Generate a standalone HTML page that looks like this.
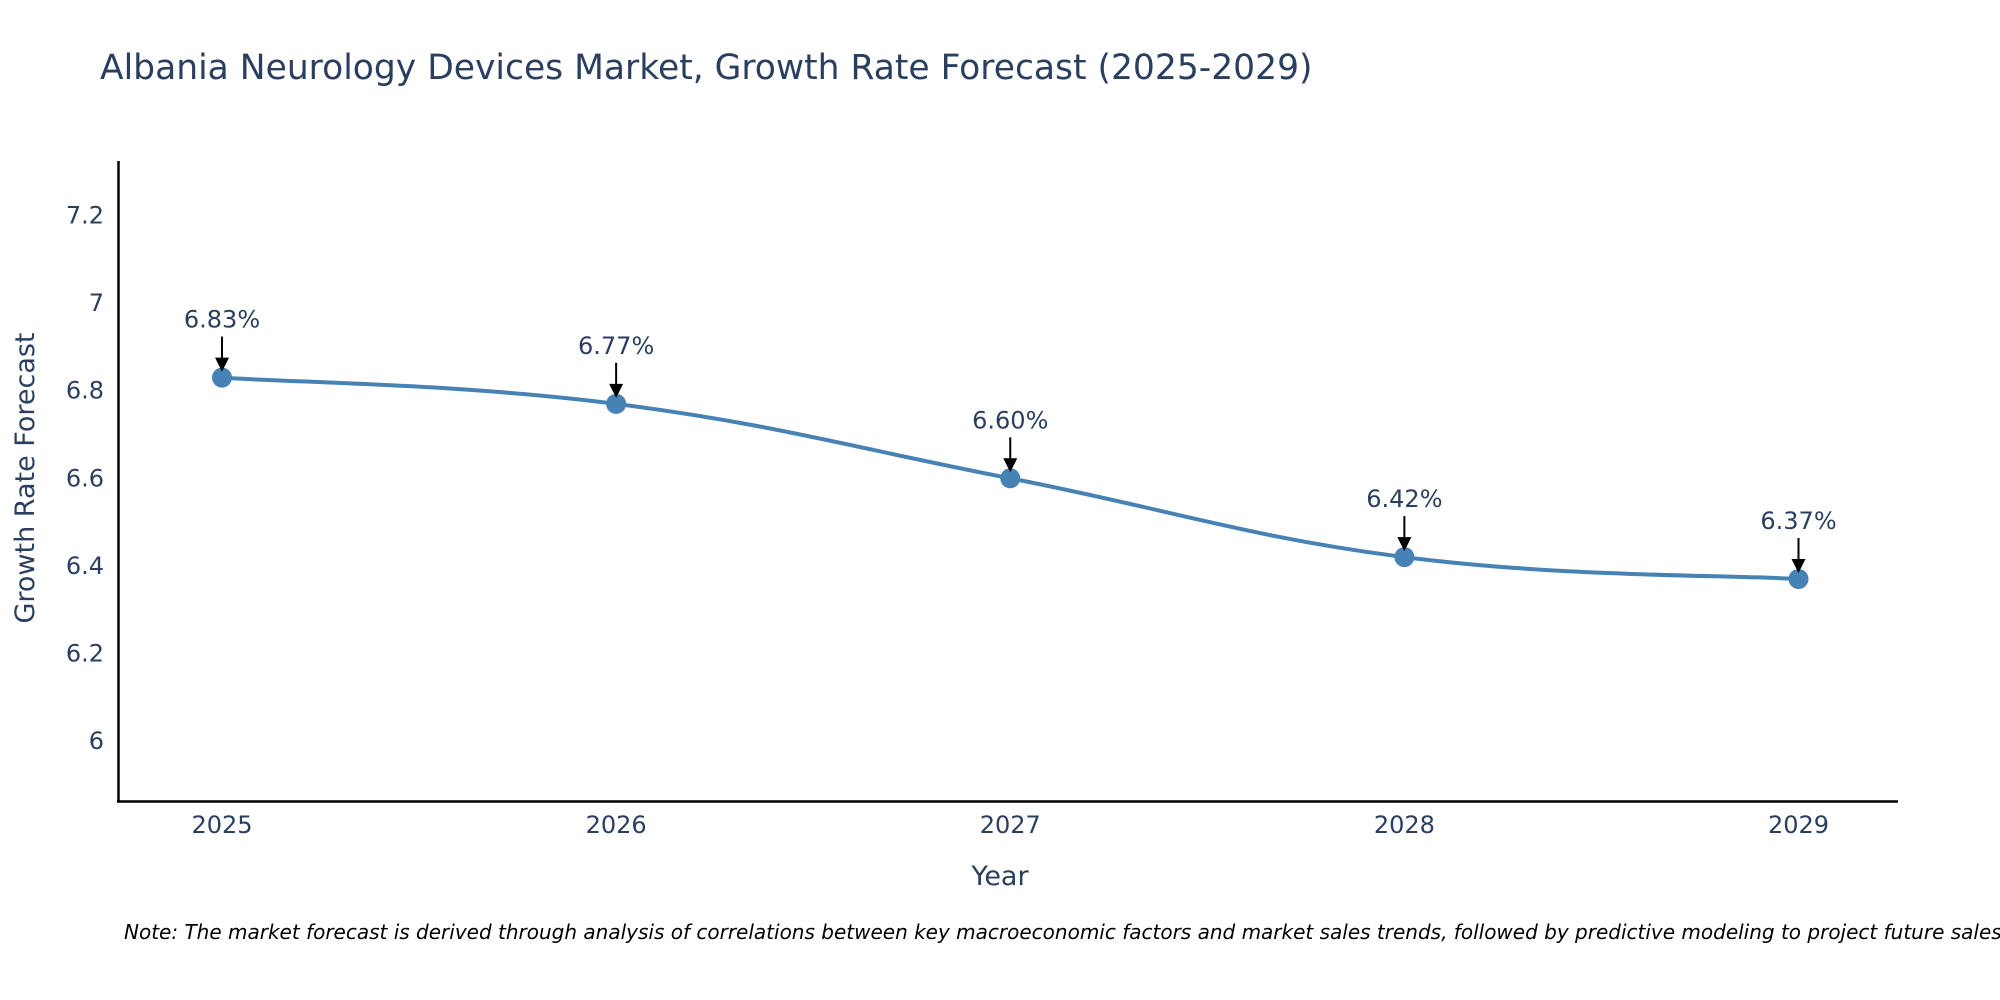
<!DOCTYPE html>
<html><head><meta charset="utf-8"><style>
html,body{margin:0;padding:0;background:#fff;overflow:hidden;}
svg{display:block;font-family:"DejaVu Sans","Liberation Sans",sans-serif;}
</style></head><body>
<svg id="chart" width="2000" height="1000" viewBox="0 0 2000 1000">
<text x="100" y="79" font-size="34.5" fill="#2a3f5f">Albania Neurology Devices Market, Growth Rate Forecast (2025-2029)</text>
<g id="plot"></g>
<line x1="118.5" y1="161" x2="118.5" y2="802" stroke="#000" stroke-width="2.5"/>
<line x1="117" y1="801.5" x2="1898" y2="801.5" stroke="#000" stroke-width="2.5"/>
<text x="1000" y="885" font-size="27" fill="#2a3f5f" text-anchor="middle">Year</text>
<text transform="translate(34,478) rotate(-90)" font-size="27" fill="#2a3f5f" text-anchor="middle">Growth Rate Forecast</text>
<text x="124" y="939" font-size="20" font-style="italic" fill="#000">Note: The market forecast is derived through analysis of correlations between key macroeconomic factors and market sales trends, followed by predictive modeling to project future sales.</text>
</svg>
<script>
const years=[2025,2026,2027,2028,2029];
const values=[6.83,6.77,6.60,6.42,6.37];
const labels=["6.83%","6.77%","6.60%","6.42%","6.37%"];
const yTicks=[6,6.2,6.4,6.6,6.8,7,7.2];
const NS="http://www.w3.org/2000/svg";
const g=document.getElementById('plot');
const xs=y=>222+(y-2025)*(1798.5-222)/4;
const ys=v=>741-(v-6)*(741-215.6)/1.2;
function mk(t,a){const e=document.createElementNS(NS,t);for(const k in a)e.setAttribute(k,a[k]);g.appendChild(e);return e;}
yTicks.forEach(t=>{const e=mk('text',{x:104,y:ys(t)+8,'font-size':24,fill:'#2a3f5f','text-anchor':'end'});e.textContent=String(t);

});
years.forEach(y=>{const e=mk('text',{x:xs(y),y:833,'font-size':24,fill:'#2a3f5f','text-anchor':'middle'});e.textContent=String(y);

});
const P=years.map((y,i)=>[xs(y),ys(values[i])]);
let d=`M${P[0][0]},${P[0][1]}`;
for(let i=0;i<P.length-1;i++){const p0=P[Math.max(i-1,0)],p1=P[i],p2=P[i+1],p3=P[Math.min(i+2,P.length-1)];const k=0.2;
d+=` C${p1[0]+(p2[0]-p0[0])*k},${p1[1]+(p2[1]-p0[1])*k} ${p2[0]-(p3[0]-p1[0])*k},${p2[1]-(p3[1]-p1[1])*k} ${p2[0]},${p2[1]}`;}
const line=mk('path',{d:d,fill:'none',stroke:'#4682b4','stroke-width':4});


P.forEach((p,i)=>{const c=mk('circle',{cx:p[0],cy:p[1],r:10,fill:'#4682b4'});


const a=mk('line',{x1:p[0],y1:p[1]-41,x2:p[0],y2:p[1]-18,stroke:'#000','stroke-width':2});


const h=mk('path',{d:`M${p[0]-7},${p[1]-20} L${p[0]+7},${p[1]-20} L${p[0]},${p[1]-6} Z`,fill:'#000'});


const t=mk('text',{x:p[0],y:p[1]-50,'font-size':24,fill:'#2a3f5f','text-anchor':'middle'});t.textContent=labels[i];

});
</script>
</body></html>
